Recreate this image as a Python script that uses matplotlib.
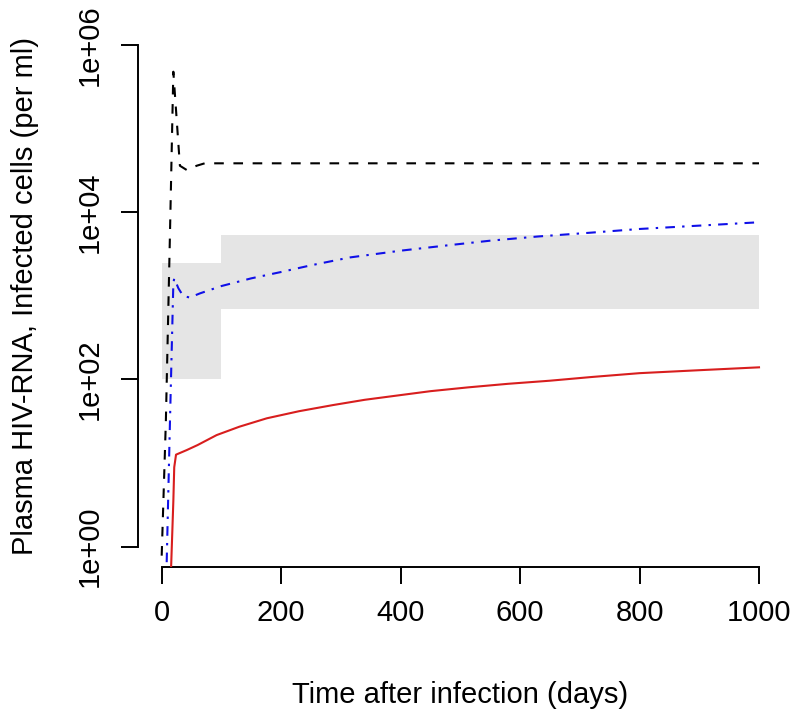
import matplotlib
matplotlib.use("Agg")
import matplotlib.pyplot as plt
import numpy as np

# ---- data ----
black_days = [0, 7, 14, 19.5, 30.5, 42, 58.5, 72, 200, 400, 600, 800, 1000]
black_vals = [0.78, 32, 6200, 4.8e5, 3.6e4, 3.2e4, 3.6e4, 3.85e4, 3.85e4, 3.85e4, 3.85e4, 3.85e4, 3.85e4]

blue_days = [8, 14, 19.5, 21, 28, 36, 47, 64, 100, 150, 200, 250, 315, 400, 480, 550, 630, 720, 800, 900, 1000]
blue_vals = [0.5, 35, 1410, 1620, 1230, 995, 955, 1070, 1310, 1620, 1930, 2320, 2880, 3470, 4030,
             4570, 5130, 5710, 6310, 6920, 7590]

red_days = [15.5, 19.5, 21, 24, 42, 60, 92, 130, 176, 230, 287, 340, 400, 450, 513, 580, 650, 720, 800, 900, 1000]
red_vals = [0.5, 3.5, 8.9, 12.6, 14.3, 16.4, 21.6, 27.2, 34.3, 41.7, 49.4, 57.1, 65.0, 72.4, 80.4,
            88.7, 96.6, 107, 118.9, 129, 139.6]

rect_x0 = [0, 100]
rect_x1 = [100, 1000]
rect_lo = [100, 700]
rect_hi = [2500, 5400]

x_ticks = [0, 200, 400, 600, 800, 1000]
y_ticks = [1, 1e2, 1e4, 1e6]
y_ticklabels = ["1e+00", "1e+02", "1e+04", "1e+06"]

xlabel = "Time after infection (days)"
ylabel = "Plasma HIV-RNA, Infected cells (per ml)"

# ---- figure ----
plt.rcParams['font.family'] = ['Liberation Sans', 'DejaVu Sans']
plt.rcParams['lines.scale_dashes'] = False
FS = 21

W, H = 797, 711
fig = plt.figure(figsize=(W / 100, H / 100), dpi=100)
left, right, bottom, top = 137.8, 782.9, 566.7, 25.0
ax = fig.add_axes([left / W, 1 - bottom / H, (right - left) / W, (bottom - top) / H])

ax.set_yscale('log')
ax.set_xlim(-40, 1040)
ax.set_ylim(10 ** -0.24, 10 ** 6.24)

for x0, x1, lo, hi in zip(rect_x0, rect_x1, rect_lo, rect_hi):
    ax.fill_between([x0, x1], [lo, lo], [hi, hi], color='#E5E5E5', linewidth=0, zorder=1)

unit = 1.73
ax.plot(black_days, black_vals, color='black', lw=1.5, dashes=(4 * unit, 4 * unit), zorder=3)
ax.plot(blue_days, blue_vals, color='#1010E8', lw=1.5,
        dashes=(1 * unit, 3 * unit, 4 * unit, 3 * unit), zorder=3)
ax.plot(red_days, red_vals, color='#D81E1E', lw=1.5, zorder=3)

for s in ['top', 'right']:
    ax.spines[s].set_visible(False)
ax.spines['left'].set_bounds(1, 1e6)
ax.spines['bottom'].set_bounds(0, 1000)
for s in ['left', 'bottom']:
    ax.spines[s].set_linewidth(1.4)

ax.set_xticks(x_ticks)
ax.set_xticklabels([str(v) for v in x_ticks], fontsize=FS)
ax.set_yticks(y_ticks)
ax.set_yticklabels(y_ticklabels, fontsize=FS)
ax.minorticks_off()
ax.yaxis.set_minor_locator(matplotlib.ticker.NullLocator())
ax.tick_params(axis='both', direction='out', length=12.2, width=1.4)
ax.tick_params(axis='x', pad=11)
ax.tick_params(axis='y', pad=12)
for lab in ax.get_yticklabels():
    lab.set_rotation(90)
    lab.set_va('center')
    lab.set_ha('right')

ax.set_xlabel(xlabel, fontsize=FS, labelpad=39)
ax.set_ylabel(ylabel, fontsize=FS, labelpad=27)

fig.savefig('out.png', dpi=100)
